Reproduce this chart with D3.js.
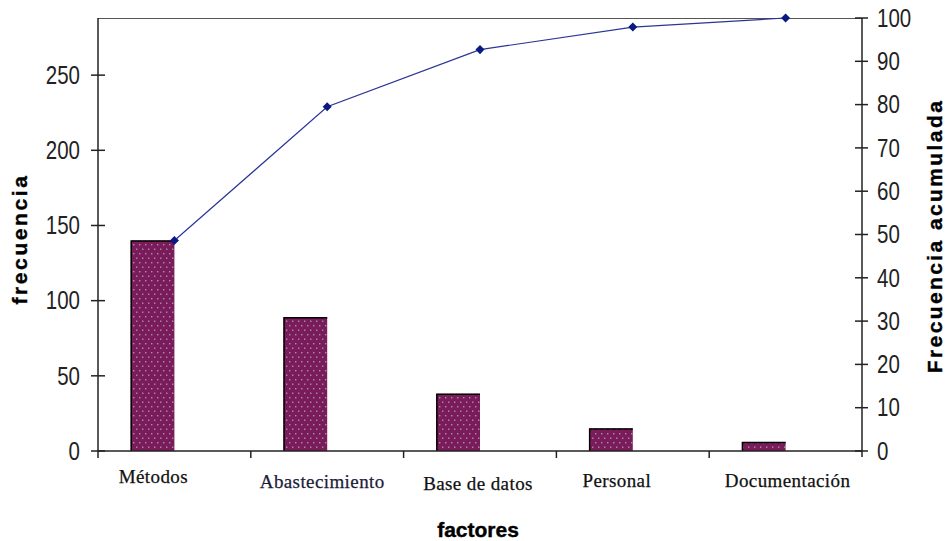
<!DOCTYPE html>
<html><head><meta charset="utf-8">
<script src="https://cdn.jsdelivr.net/npm/d3@7"></script>
<style>
html,body{margin:0;padding:0;background:#fff;}
svg{display:block;}
</style></head>
<body>
<svg id="chart" width="947" height="541"></svg>
<script>
// ---- data ----
const categories = ["Métodos", "Abastecimiento", "Base de datos", "Personal", "Documentación"];
const frecuencia = [140, 89, 38, 15, 6];
const acumulada = [48.6, 79.5, 92.7, 97.9, 100];
const leftTicks = [0, 50, 100, 150, 200, 250];
const rightTicks = [0, 10, 20, 30, 40, 50, 60, 70, 80, 90, 100];

// ---- layout (not data) ----
const labelLayout = [
  {dx: -21, y: 483, color: "#111"},
  {dx: -5, y: 488, color: "#1c1c3a"},
  {dx: -2, y: 490, color: "#111"},
  {dx: -16, y: 487, color: "#111"},
  {dx: 2, y: 487, color: "#111"}
];
const L = 98, R = 862, T = 18, B = 451;

const svg = d3.select("#chart");
const defs = svg.append("defs");
const pat = defs.append("pattern").attr("id","dots").attr("patternUnits","userSpaceOnUse")
  .attr("width",6).attr("height",9);
pat.append("rect").attr("width",6).attr("height",9).attr("fill","#7a1c5c");
pat.append("rect").attr("x",1).attr("y",1).attr("width",1.4).attr("height",1.4).attr("fill","#a890a4");
pat.append("rect").attr("x",4).attr("y",5.5).attr("width",1.4).attr("height",1.4).attr("fill","#a890a4");

const total = d3.sum(frecuencia);
const x = d3.scaleBand().domain(categories).range([L, R]).padding(0);
const yL = d3.scaleLinear().domain([0, total]).range([B, T]);
const yR = d3.scaleLinear().domain([0, 100]).range([B, T]);

// bars: Excel-like cluster of two slots (gap 150%), only first slot visible
const bars = svg.append("g");
categories.forEach((c, i) => {
  const bx = x(c) + x.bandwidth()*0.75/3.5;
  const bwid = x(c) + x.bandwidth()/2 - bx;
  const yTop = yL(frecuencia[i]);
  bars.append("rect").attr("x", bx).attr("y", yTop).attr("width", bwid).attr("height", B - yTop)
    .attr("fill","url(#dots)");
  bars.append("path").attr("d", `M${bx+0.5},${B} L${bx+0.5},${yTop+0.5} L${bx+bwid},${yTop+0.5}`)
    .attr("fill","none").attr("stroke","#000").attr("stroke-width",1.5);
});

// top border
svg.append("line").attr("x1",L).attr("x2",R).attr("y1",T+0.5).attr("y2",T+0.5)
  .attr("stroke","#555").attr("stroke-width",1.2);

const axisColor = "#222";
const tickFont = "'Liberation Sans',Arial,sans-serif";
function tickLabel(g, xPos, yPos, anchor, v) {
  g.append("g").attr("transform", `translate(${xPos},${yPos}) scale(0.82,1)`)
    .append("text").attr("text-anchor", anchor).attr("dominant-baseline","central")
    .attr("font-family", tickFont).attr("font-size", 25).attr("fill","#222").text(v);
}

// left axis
const gl = svg.append("g");
gl.append("line").attr("x1",L).attr("x2",L).attr("y1",T).attr("y2",B+7).attr("stroke",axisColor).attr("stroke-width",1.5);
leftTicks.forEach(v => {
  gl.append("line").attr("x1",L-7).attr("x2",L+7).attr("y1",yL(v)).attr("y2",yL(v)).attr("stroke",axisColor).attr("stroke-width",1.5);
  tickLabel(gl, 80, yL(v), "end", v);
});

// right axis
const gr = svg.append("g");
gr.append("line").attr("x1",R).attr("x2",R).attr("y1",T).attr("y2",B+6).attr("stroke",axisColor).attr("stroke-width",1.5);
rightTicks.forEach(v => {
  gr.append("line").attr("x1",R-7).attr("x2",R+6).attr("y1",yR(v)).attr("y2",yR(v)).attr("stroke",axisColor).attr("stroke-width",1.5);
  tickLabel(gr, 877, yR(v), "start", v);
});

// bottom axis
const gb = svg.append("g");
gb.append("line").attr("x1",L).attr("x2",R).attr("y1",B).attr("y2",B).attr("stroke",axisColor).attr("stroke-width",1.5);
categories.forEach((c,i) => {
  if (i > 0) gb.append("line").attr("x1",x(c)).attr("x2",x(c)).attr("y1",B).attr("y2",B+7).attr("stroke",axisColor).attr("stroke-width",1.5);
  const lay = labelLayout[i];
  gb.append("text").attr("x", x(c) + x.bandwidth()/2 + lay.dx).attr("y", lay.y).attr("text-anchor","middle")
    .attr("font-family","'Liberation Serif','Times New Roman',serif").attr("font-size",19).attr("letter-spacing",0.4)
    .attr("fill",lay.color).attr("stroke",lay.color).attr("stroke-width",0.25).text(c);
});

// cumulative line
const line = d3.line().x((d,i) => x(categories[i]) + x.bandwidth()/2).y(d => yR(d));
svg.append("path").datum(acumulada).attr("d", line).attr("fill","none").attr("stroke","#2a3595").attr("stroke-width",1.2);
svg.append("g").selectAll("rect").data(acumulada).join("rect")
  .attr("x",-3.2).attr("y",-3.2).attr("width",6.4).attr("height",6.4)
  .attr("transform",(d,i)=>`translate(${x(categories[i]) + x.bandwidth()/2},${yR(d)}) rotate(45)`)
  .attr("fill","#0a1a80");

// titles
svg.append("text").attr("transform","translate(27,239) rotate(-90)").attr("text-anchor","middle")
  .attr("font-family","'Liberation Sans',Arial,sans-serif").attr("font-weight","bold").attr("font-size",21)
  .attr("letter-spacing",2.6).attr("fill","#000").attr("stroke","#000").attr("stroke-width",0.4).text("frecuencia");
svg.append("text").attr("transform","translate(942,236) rotate(-90)").attr("text-anchor","middle")
  .attr("font-family","'Liberation Sans',Arial,sans-serif").attr("font-weight","bold").attr("font-size",21)
  .attr("letter-spacing",2.4).attr("fill","#000").attr("stroke","#000").attr("stroke-width",0.4).text("Frecuencia acumulada");
svg.append("text").attr("x",478).attr("y",537).attr("text-anchor","middle")
  .attr("font-family","'Liberation Sans',Arial,sans-serif").attr("font-weight","bold").attr("font-size",21)
  .attr("fill","#000").attr("stroke","#000").attr("stroke-width",0.4).text("factores");
</script>
</body></html>
